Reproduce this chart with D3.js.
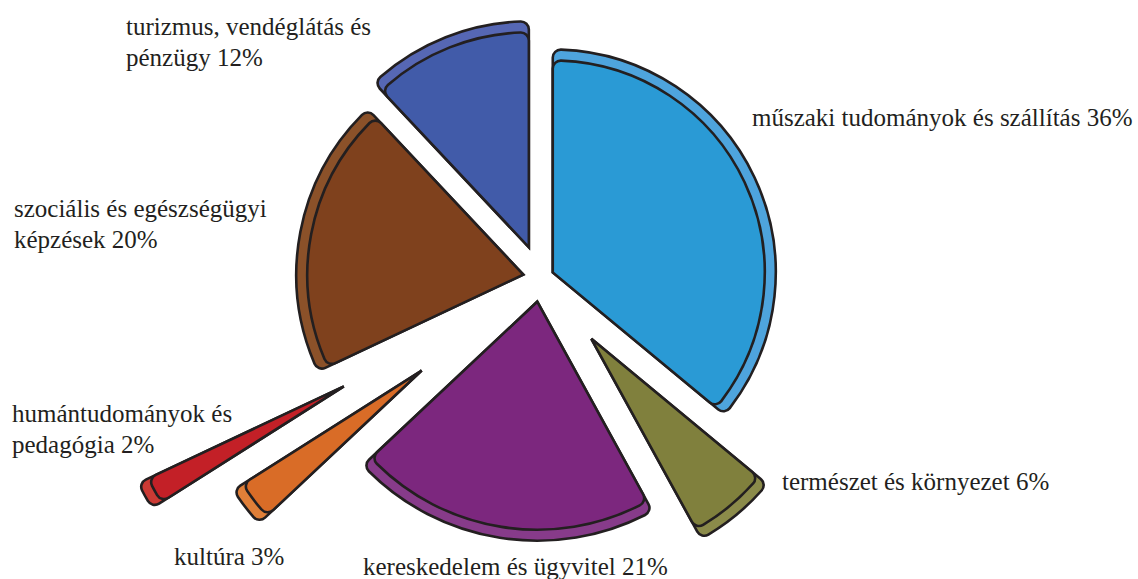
<!DOCTYPE html>
<html>
<head>
<meta charset="utf-8">
<script src="https://cdn.jsdelivr.net/npm/d3@7/dist/d3.min.js"></script>
<style>
  body { margin: 0; background: #fff; }
</style>
</head>
<body>
<div id="chart"></div>
<script>
// data, clockwise from 12 o'clock
const categories = [
  'műszaki tudományok és szállítás',
  'természet és környezet',
  'kereskedelem és ügyvitel',
  'kultúra',
  'humántudományok és pedagógia',
  'szociális és egészségügyi képzések',
  'turizmus, vendéglátás és pénzügy'
];
const shares = [36, 6, 21, 3, 2, 20, 12];
// how many words go on the first label line (0 = one line)
const labelBreak = [0, 0, 0, 0, 2, 3, 3];

// look
const frontColors = ['#2a9ad5', '#80803d', '#7c277e', '#d96c27', '#c32027', '#7f411d', '#415ba9'];
const backColors  = ['#4ea4dd', '#8b8b4a', '#873b8a', '#e07f38', '#cb3a34', '#8b5129', '#5667b4'];
const explode = [13, 79, 24, 151, 225, 18, 33];   // px pulled out along the mid angle
const radii   = [212, 217, 228, 212, 216, 216, 215];
const depth = 11;                                  // thickness of the lighter rim
const labelPos = [[752, 126], [782, 490], [363, 575], [174, 565], [12, 422], [14, 217], [126, 35]];

const width = 1138;
const height = 579;
const cx = 541, cy = 278;

const svg = d3.select('#chart')
  .append('svg')
  .attr('width', width)
  .attr('height', height);

const pie = d3.pie().sort(null).value(d => d);
const arcs = pie(shares);

const slices = svg.append('g')
  .attr('transform', `translate(${cx},${cy})`)
  .selectAll('g')
  .data(arcs)
  .join('g')
  .attr('transform', (d, i) => {
    const mid = (d.startAngle + d.endAngle) / 2;
    return `translate(${Math.sin(mid) * explode[i]},${-Math.cos(mid) * explode[i]})`;
  });

// back layer: same wedge, a bit longer
slices.append('path')
  .attr('d', (d, i) => d3.arc().innerRadius(0).outerRadius(radii[i] + depth).cornerRadius(8)(d))
  .attr('fill', (d, i) => backColors[i])
  .attr('stroke', '#231f20')
  .attr('stroke-width', 2.6);

// front face
slices.append('path')
  .attr('d', (d, i) => d3.arc().innerRadius(0).outerRadius(radii[i]).cornerRadius(8)(d))
  .attr('fill', (d, i) => frontColors[i])
  .attr('stroke', '#231f20')
  .attr('stroke-width', 2.6);

// labels
const labels = svg.append('g')
  .selectAll('text')
  .data(categories)
  .join('text')
  .attr('x', (d, i) => labelPos[i][0])
  .attr('y', (d, i) => labelPos[i][1])
  .style('font-family', '"Liberation Serif"')
  .style('font-size', '25px')
  .style('fill', '#231f20');

labels.each(function (d, i) {
  const words = `${d} ${shares[i]}%`.split(' ');
  const lines = labelBreak[i]
    ? [words.slice(0, labelBreak[i]).join(' '), words.slice(labelBreak[i]).join(' ')]
    : [words.join(' ')];
  d3.select(this).selectAll('tspan')
    .data(lines)
    .join('tspan')
    .attr('x', labelPos[i][0])
    .attr('dy', (l, j) => j ? 31 : 0)
    .text(l => l);
});
</script>
</body>
</html>
